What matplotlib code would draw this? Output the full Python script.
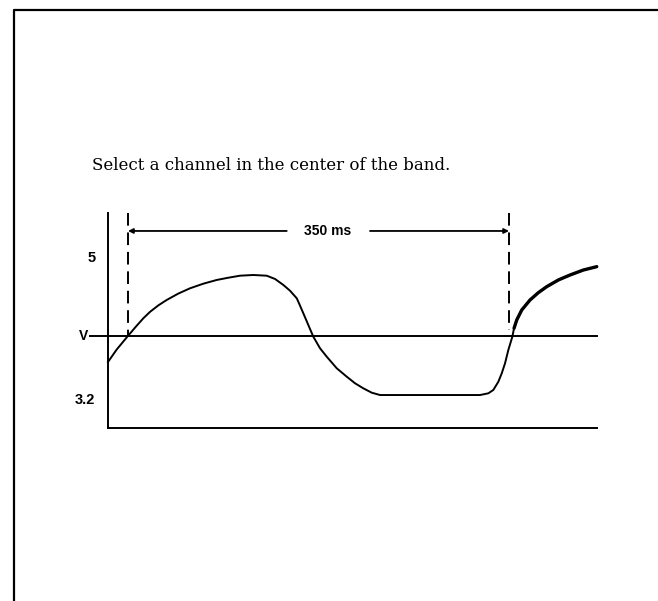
import matplotlib.pyplot as plt
from matplotlib.lines import Line2D

# curve: time in ms (0 = first crossing), level in volts
t_ms = [-18.37, -10.38, 0.28, 7.99, 14.06, 20.21, 27.83, 35.55, 46.21, 56.96,
        69.17, 81.48, 92.14, 102.89, 115.11, 127.42, 135.04, 142.67, 148.82,
        154.98, 157.09, 161.04, 165.63, 170.23, 176.38, 182.54, 191.72,
        200.91, 208.53, 216.16, 223.87, 231.50, 323.37, 330.99, 335.58,
        340.18, 343.30, 346.33, 349.36, 353.04, 354.60, 357.08, 361.67,
        369.29, 376.92, 384.63, 395.29, 406.04, 418.26, 430.57]
volts = [3.689, 3.849, 4.029, 4.155, 4.250, 4.333, 4.416, 4.486, 4.568, 4.636,
         4.695, 4.743, 4.772, 4.798, 4.807, 4.798, 4.756, 4.679, 4.605,
         4.508, 4.443, 4.315, 4.164, 4.014, 3.865, 3.757, 3.608,
         3.500, 3.415, 3.350, 3.294, 3.264, 3.264, 3.286, 3.329,
         3.435, 3.543, 3.672, 3.843, 4.014, 4.122, 4.229, 4.357,
         4.486, 4.580, 4.657, 4.743, 4.807, 4.871, 4.914]

v_level = 4.02
tick_vals = [5, 3.2]
tick_labels = ['5', '3.2']
period = [0, 350]
period_label = '350 ms'
title = 'Select a channel in the center of the band.'

W, H = 658, 601
fig = plt.figure(figsize=(W / 100, H / 100), dpi=100)

# page frame (only top and left edges show)
fig.add_artist(Line2D([14 / W, 14 / W, 1], [0, 591 / H, 591 / H],
                      transform=fig.transFigure, color='black', lw=1.6))

fig.text(92 / W, 1 - 165 / H, title, family='DejaVu Serif', fontsize=12,
         va='center', ha='left')

ax = fig.add_axes([108 / W, (H - 428) / H, (597 - 108) / W, (428 - 213) / H])
ax.set_xlim(-18.37, 430.8)
ax.set_ylim(2.84, 5.604)
for s in ['top', 'right']:
    ax.spines[s].set_visible(False)
for s in ['left', 'bottom']:
    ax.spines[s].set_linewidth(1.4)
ax.set_xticks([])
ax.set_yticks([])
ax.patch.set_alpha(0)

# threshold line, runs a bit past the axis to the "V" label
ax.plot([-35.3, 430.8], [v_level, v_level], color='black', lw=1.4, clip_on=False)

ax.plot(t_ms, volts, color='black', lw=1.4, clip_on=False,
        solid_joinstyle='round')
ax.plot(t_ms[40:], volts[40:], color='black', lw=2.4, clip_on=False,
        solid_capstyle='round', solid_joinstyle='round')

# dashed markers of the period
ax.plot([period[0]] * 2, [5.604, v_level], color='black', lw=1.4,
        linestyle=(0, (6.5, 3.5)))
ax.plot([period[1]] * 2, [5.604, 4.1], color='black', lw=1.4,
        linestyle=(0, (6.5, 3.5)))

ya = 5.373
ax.annotate('', xy=(period[0], ya), xytext=(145.8, ya),
            arrowprops=dict(arrowstyle='-|>', mutation_scale=7, lw=1.3,
                            color='black', shrinkA=0, shrinkB=0))
ax.annotate('', xy=(period[1], ya), xytext=(222.3, ya),
            arrowprops=dict(arrowstyle='-|>', mutation_scale=7, lw=1.3,
                            color='black', shrinkA=0, shrinkB=0))
ax.text(183.7, ya, period_label, family='Liberation Sans', fontweight='bold',
        fontsize=10, ha='center', va='center')

ax.text(-33.8, tick_vals[0] + 0.02, tick_labels[0], family='Liberation Sans',
        fontweight='bold', fontsize=10.5, ha='center', va='center', clip_on=False)
ax.text(-39.5, tick_vals[1], tick_labels[1], family='Liberation Sans',
        fontweight='bold', fontsize=10.5, ha='center', va='center', clip_on=False)
ax.text(-40.5, v_level, 'V', family='Liberation Sans', fontweight='bold',
        fontsize=10, ha='center', va='center', clip_on=False)

fig.savefig('out.png', dpi=100)
